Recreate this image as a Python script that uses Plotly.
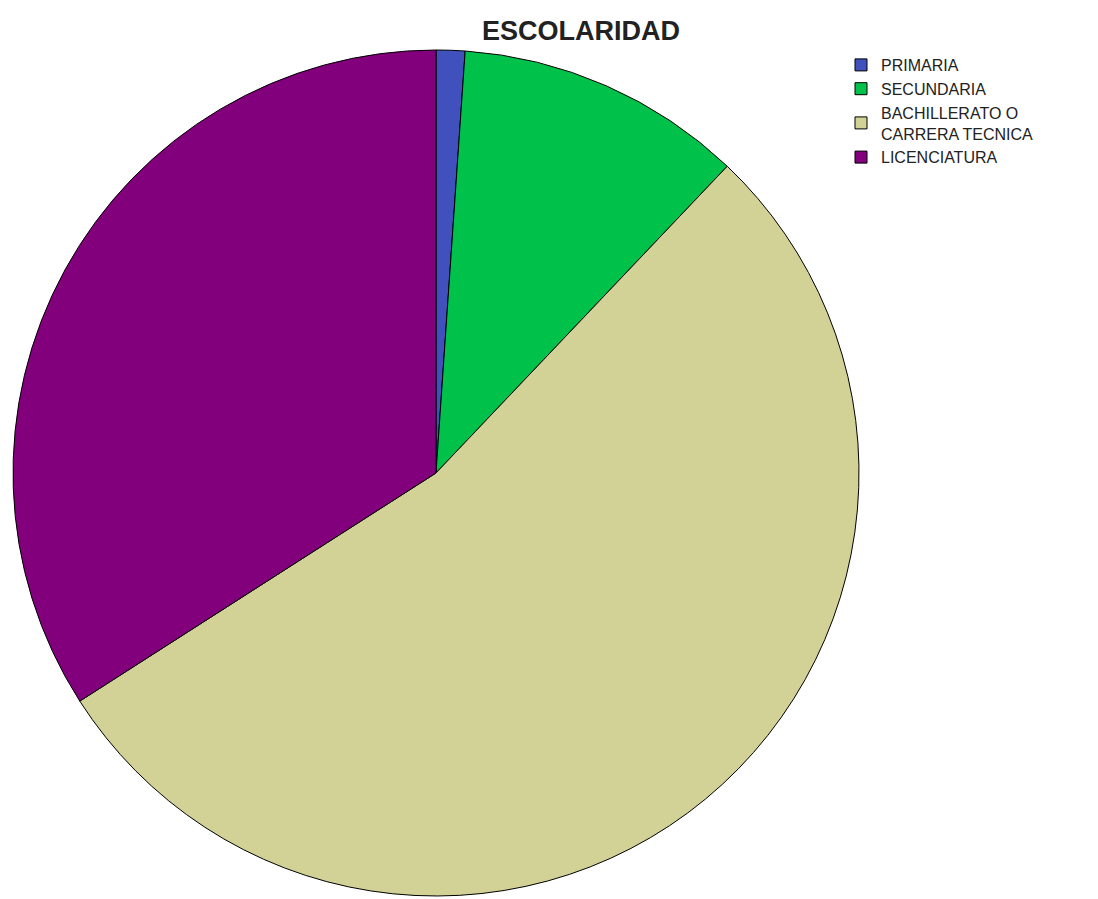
import plotly.graph_objects as go

categories = ["PRIMARIA", "SECUNDARIA", "BACHILLERATO O<br>CARRERA TECNICA", "LICENCIATURA"]
counts = [1, 10, 49, 31]
colors = ["#4050bc", "#00c24b", "#d2d196", "#82007c"]

W, H = 1098, 899
fig = go.Figure(go.Pie(
    labels=categories,
    values=counts,
    sort=False,
    direction="clockwise",
    rotation=0,
    marker=dict(colors=colors, line=dict(color="#000000", width=1)),
    textinfo="none",
    hoverinfo="label+value+percent",
    domain=dict(x=[5 / W, 851 / W], y=[1 - 888 / H, 1 - 42 / H]),
))

fig.update_layout(
    width=W, height=H,
    margin=dict(l=0, r=0, t=0, b=0),
    paper_bgcolor="white",
    title=dict(text="<b>ESCOLARIDAD</b>", x=573 / W, xanchor="center", y=1 - 23 / H, yanchor="middle",
               font=dict(family="Liberation Sans, Arial", size=27, color="#222222")),
    legend=dict(x=833 / W, y=1 - 40 / H, xanchor="left", yanchor="top",
                font=dict(family="Liberation Sans, Arial", size=16, color="#222222"),
                tracegroupgap=0, itemwidth=30, bgcolor="rgba(0,0,0,0)"),
    showlegend=True,
)

fig.write_html("out.html")
